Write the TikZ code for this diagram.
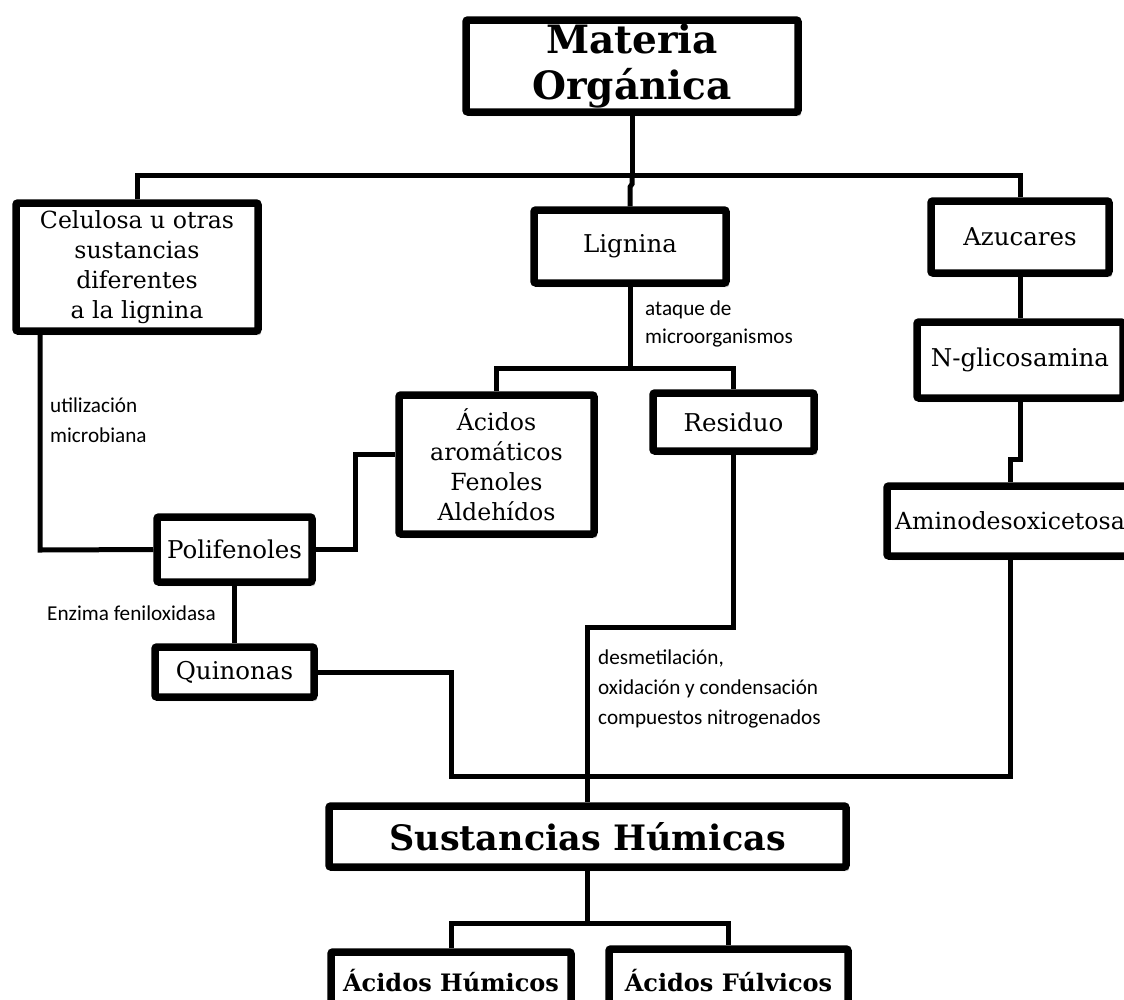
\documentclass[tikz,border=0pt]{standalone}
\usepackage{fontspec}
\setmainfont{DejaVu Serif}
\newfontfamily\labfont{Carlito}
\usetikzlibrary{shadows}
\tikzset{
  box/.style={draw=black, line width=7.5pt, rounded corners=2pt, fill=white, inner sep=0pt, align=center,
    drop shadow={shadow xshift=3pt, shadow yshift=-4pt, opacity=0.22, fill=black}},
  conn/.style={line width=5pt},
  normal/.style={font=\fontsize{24.5}{30}\selectfont},
  multi/.style={font=\fontsize{23.6}{30}\selectfont},
  title/.style={font=\bfseries\fontsize{39}{46}\selectfont},
  subtitle/.style={font=\bfseries\fontsize{35}{40}\selectfont},
  smallbold/.style={font=\bfseries\fontsize{24}{28}\selectfont},
  lab/.style={font=\labfont\fontsize{21.2}{30}\selectfont, anchor=west, inner sep=0pt, align=left}
}
\begin{document}
\begin{tikzpicture}[x=1pt, y=-1pt]
\useasboundingbox (0,0) rectangle (1124,999);
\clip (0,0) rectangle (1124,999);
\fill[white] (0,0) rectangle (1124,999);

% boxes
\node[box, title, minimum width=332pt, minimum height=92pt] (mat) at (632,66) {Materia\\Orgánica};
\node[box, multi, minimum width=242pt, minimum height=128pt] (cel) at (137,267) {Celulosa u otras\\sustancias\\diferentes\\a la lignina};
\node[box, normal, minimum width=192pt, minimum height=73pt] (lig) at (630,246.5) {Lignina};
\node[box, normal, minimum width=178pt, minimum height=72pt] (azu) at (1020,237) {Azucares};
\node[box, normal, minimum width=206pt, minimum height=76pt] (ngl) at (1020,360) {N-glicosamina};
\node[box, multi, minimum width=246pt, minimum height=70pt] (ami) at (1010,521) {Aminodesoxicetosa};
\node[box, multi, minimum width=195pt, minimum height=139pt] (aci) at (496.5,464.5) {Ácidos\\aromáticos\\Fenoles\\Aldehídos};
\node[box, normal, minimum width=161pt, minimum height=58pt] (res) at (733.5,422) {Residuo};
\node[box, normal, minimum width=155pt, minimum height=65pt] (pol) at (234.5,549.5) {Polifenoles};
\node[box, normal, minimum width=159pt, minimum height=50pt] (qui) at (234.5,672) {Quinonas};
\node[box, subtitle, minimum width=517pt, minimum height=61pt] (sus) at (587.5,836.5) {Sustancias Húmicas};
\node[box, smallbold, minimum width=240pt, minimum height=58pt] (ahu) at (451,981) {Ácidos Húmicos};
\node[box, smallbold, minimum width=239pt, minimum height=64pt] (afu) at (728.5,981) {Ácidos Fúlvicos};

% labels
\node[lab] (t1) at (50,420) {utilización\\microbiana};
\node[lab, font=\labfont\fontsize{21.2}{28}\selectfont] (t2) at (645,323.5) {ataque de\\microorganismos};
\node[lab] (t3) at (47,613) {Enzima feniloxidasa};
\node[lab] (t4) at (598,689) {desmetilación,\\oxidación y condensación\\compuestos nitrogenados};

% connectors
\coordinate (h1) at (632,175);
\draw[conn] (mat.south) -- (h1);
\draw[conn] (cel.north) |- (h1) -| (azu.north);
\draw[conn] (h1) -- ++(0,9) -- ++(-2,3) -- (lig.north);

\coordinate (l2) at (630,368);
\draw[conn] (lig.south) -- (l2);
\draw[conn] (aci.north) |- (l2) -| (res.north);

\coordinate (c1) at (40,550);
\draw[conn] (cel.south -| c1) -- (c1) -- (pol.west);

\coordinate (a1) at (355,454);
\draw[conn] (pol.east) -| (a1) -- (a1 -| aci.west);
\draw[conn] (pol.south) -- (qui.north);

\coordinate (q1) at (451,776);
\draw[conn] (qui.east) -| (q1) -| (ami.south);

\coordinate (r1) at (587.5,627);
\draw[conn] (res.south) |- (r1) -- (sus.north);

\draw[conn] (azu.south) -- (ngl.north);
\coordinate (n1) at (1020,459);
\draw[conn] (ngl.south) -- (n1) -- (n1 -| ami.north) -- (ami.north);

\coordinate (s1) at (587.5,923);
\draw[conn] (sus.south) -- (s1);
\draw[conn] (ahu.north) |- (s1) -| (afu.north);
\end{tikzpicture}
\end{document}
